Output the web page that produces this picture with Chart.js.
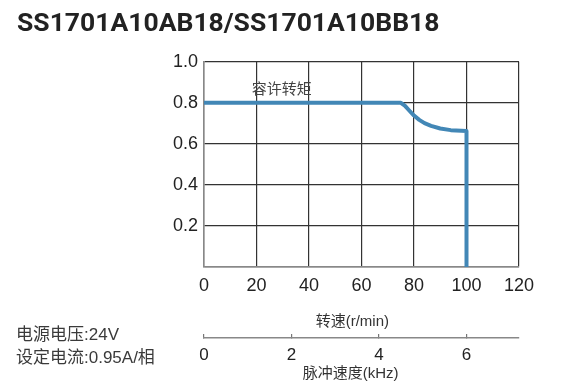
<!DOCTYPE html>
<html>
<head>
<meta charset="utf-8">
<script src="https://cdn.jsdelivr.net/npm/chart.js@4"></script>
<style>
html,body{margin:0;padding:0;background:#fff;}
#wrap{width:569px;height:392px;position:relative;}
</style>
</head>
<body>
<div id="wrap"><canvas id="c" width="569" height="392"></canvas></div>
<script>
const titleText = 'SS1701A10AB18/SS1701A10BB18';
const speeds  = [0, 75, 76.5, 78, 80, 82, 84, 86.5, 90, 94, 100, 100];
const torques = [0.8, 0.8, 0.786, 0.765, 0.738, 0.717, 0.701, 0.688, 0.675, 0.667, 0.663, 0];
const xTicks = [0, 20, 40, 60, 80, 100, 120];
const yTicks = [0, 0.2, 0.4, 0.6, 0.8, 1.0];
const kHzTicks = [0, 2, 4, 6];
const seriesLabel = '容许转矩';
const xTitle = '转速(r/min)';
const x2Title = '脉冲速度(kHz)';
const notes = ['电源电压:24V', '设定电流:0.95A/相'];

const LAT = '"Liberation Sans", Arial, sans-serif';
const CJK = '"Liberation Sans", Arial, "Noto Sans CJK SC", sans-serif';

const annot = {
  id: 'annot',
  afterDraw(chart) {
    const ctx = chart.ctx;
    const xs = chart.scales.x, ys = chart.scales.y, x2 = chart.scales.x2;
    ctx.save();
    ctx.textBaseline = 'middle';
    ctx.textAlign = 'center';
    ctx.fillStyle = '#444';
    ctx.font = '15px ' + CJK;
    ctx.fillText(seriesLabel, xs.getPixelForValue(29.6), ys.getPixelForValue(0.865));
    ctx.fillStyle = '#333';
    ctx.fillText(xTitle, xs.getPixelForValue(56.5), xs.bottom - 16);
    ctx.fillText(x2Title, x2.getPixelForValue(3.35), x2.bottom - 14);
    ctx.textAlign = 'left';
    ctx.fillStyle = '#3a3a3a';
    ctx.font = '17px ' + CJK;
    ctx.fillText(notes[0], 16, 335);
    ctx.fillText(notes[1], 16, 358);
    ctx.restore();
  }
};

new Chart(document.getElementById('c'), {
  type: 'line',
  data: {
    datasets: [{
      label: seriesLabel,
      data: speeds.map((s, i) => ({x: s, y: torques[i]})),
      borderColor: '#4287b6',
      borderWidth: 4,
      pointRadius: 0,
      tension: 0,
      fill: false,
      borderJoinStyle: 'round'
    }]
  },
  plugins: [annot],
  options: {
    responsive: false,
    animation: false,
    layout: {padding: {left: 17, right: 50, top: 0, bottom: 4}},
    plugins: {
      legend: {display: false},
      tooltip: {enabled: false},
      title: {
        display: true,
        text: titleText,
        align: 'start',
        color: '#222',
        font: {family: 'Roboto, "Liberation Sans", Arial, sans-serif', size: 26.5, weight: 'bold'},
        padding: {top: 8, bottom: 22}
      }
    },
    scales: {
      x: {
        type: 'linear',
        position: 'bottom',
        min: 0, max: 120,
        afterBuildTicks: s => { s.ticks = xTicks.map(v => ({value: v})); },
        afterFit: s => { s.height = 71; },
        ticks: {color: '#222', font: {family: LAT, size: 18}, padding: 8},
        grid: {color: '#333', lineWidth: 1.2, drawTicks: false},
        border: {color: '#888', width: 1.5}
      },
      x2: {
        type: 'linear',
        position: 'bottom',
        min: 0, max: 7.2,
        afterBuildTicks: s => { s.ticks = kHzTicks.map(v => ({value: v})); },
        afterFit: s => { s.height = 50; },
        ticks: {color: '#222', font: {family: LAT, size: 17}, padding: 11},
        grid: {drawOnChartArea: false, color: '#777', tickLength: -4, lineWidth: 1.2},
        border: {color: '#888', width: 1.5}
      },
      y: {
        type: 'linear',
        min: 0, max: 1,
        afterBuildTicks: s => { s.ticks = yTicks.map(v => ({value: v})); },
        afterFit: s => { s.width = 187; },
        ticks: {
          color: '#222',
          font: {family: LAT, size: 18},
          padding: 6,
          callback: v => v === 0 ? '' : v.toFixed(1)
        },
        grid: {color: '#333', lineWidth: 1.2, drawTicks: false},
        border: {color: '#888', width: 1.5}
      }
    }
  }
});
</script>
</body>
</html>
